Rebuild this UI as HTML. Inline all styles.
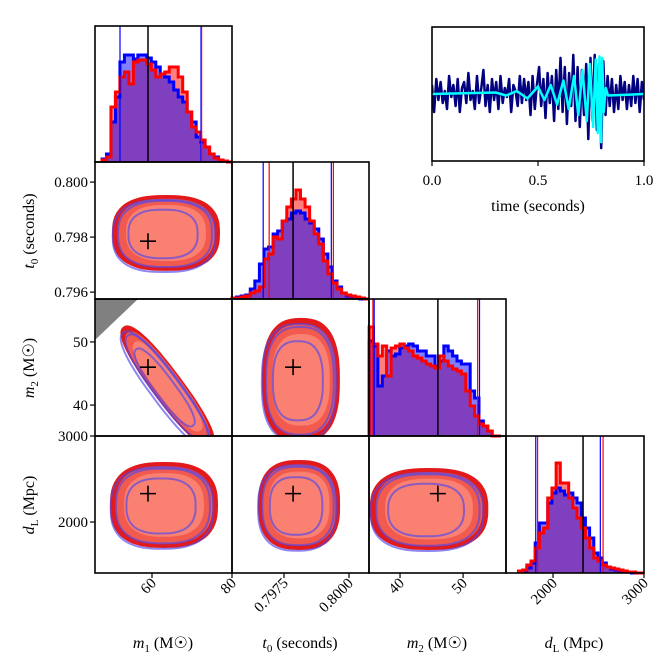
<!DOCTYPE html>
<html><head><meta charset="utf-8"><style>
html,body{margin:0;padding:0;background:#fff;}
svg{display:block;font-family:"Liberation Serif",serif;}
</style></head><body>
<svg id="c" width="672" height="668" viewBox="0 0 672 668" xmlns="http://www.w3.org/2000/svg"></svg>
<script>
// ---------- data ----------
const m1Bins = [47.5, 80];
const m1Blue = [3,8,40,65,100,107,107,103,107,107,104,100,95,88,85,80,72,65,60,50,40,25,20,15,8,5,2,1,0];
const m1Red  = [2,5,55,70,85,90,78,100,102,102,98,92,85,88,90,95,95,85,70,50,35,30,22,15,8,4,2,1,0];
const t0Bins = [0.7955, 0.80077];
const t0Blue = [1,2,3,4,10,18,35,50,52,65,68,78,80,86,88,86,80,76,70,60,45,32,18,12,6,3,2,1,0,0];
const t0Red  = [1,1,2,3,6,8,12,40,45,62,60,78,92,100,109,100,92,78,65,55,38,25,16,10,6,4,3,2,1,0];
const m2Bins = [35.1, 56.0];
const m2Blue = [95,90,50,60,85,80,82,88,90,92,90,85,85,80,80,70,75,90,85,80,75,72,72,45,38,15,10,5,0,0];
const m2Red  = [109,92,80,90,60,88,90,92,88,85,80,78,75,72,70,68,80,75,70,67,65,62,45,30,20,12,10,5,0,0];
const dLBins = [1620, 3000];
const dLBlue = [1,2,5,10,30,50,50,70,80,85,82,78,80,75,70,55,45,35,20,15,10,6,4,3,2,1,1,0,0,0];
const dLRed  = [2,3,8,12,25,40,45,75,85,110,90,90,75,65,55,45,35,25,15,12,8,6,5,4,3,2,1,1,0,0];
const truth = {m1:59, t0:0.79785, m2:46, dL:2330};
const qBlue = {m1:[52.0,72.25], t0:[0.79670,0.79932], m2:[35.9,52.6], dL:[1810,2520]};
const qRed  = {m1:[72.4], t0:[0.79693,0.79940], m2:[35.7,52.3], dL:[1830,2550]};
// 2D contour blobs: [xParam, yParam, xCenter, yCenter, xHalf, yHalf]
const blobs = [
 ['m1','t0',63.5,0.79815,13.5,0.00138],
 ['t0','m2',0.79815,44,0.0015,9.8],
 ['m1','dL',63.0,2198,13.5,500],
 ['t0','dL',0.79808,2198,0.00158,523],
 ['m2','dL',44.6,2151,9.4,477]
];
const band = {start:[52.8,52.4], end:[75.0,33.5], halfWidthM1:4.8};
const xTicks = {m1:[60,80], t0:[0.7975,0.8000], m2:[40,50], dL:[2000,3000]};
const xTickLabels = {m1:['60','80'], t0:['0.7975','0.8000'], m2:['40','50'], dL:['2000','3000']};
const yTicks = {t0:[0.800,0.798,0.796], m2:[50,40], dL:[3000,2000]};
const yTickLabels = {t0:['0.800','0.798','0.796'], m2:['50','40'], dL:['3000','2000']};
const sigData = [0.3,-0.6,0.5,-0.2,0.4,-0.3,0.1,-0.5,0.6,-0.1,0.3,-0.4,0.5,-0.6,0.2,0.4,-0.3,0.7,-0.2,0.1,-0.5,0.6,-0.3,0.2,0.8,-0.4,0.3,-0.6,0.5,-0.2,0.4,-0.5,0.6,-0.3,0.2,-0.1,0.5,-0.6,0.3,0.1,-0.4,0.6,-0.3,0.5,-0.2,0.4,-0.7,0.6,-0.5,0.3,0.9,-0.4,0.5,-0.8,0.7,-0.3,0.6,-0.9,0.8,-0.5,1.2,-0.6,0.9,-1.0,0.7,-0.4,1.3,-0.9,0.9,-1.1,0.8,-0.7,1.0,-1.5,1.2,-0.9,1.3,-1.2,1.0,-1.8,1.1,-0.7,0.6,-0.4,0.5,-0.6,0.3,-0.5,0.6,-0.2,0.4,-0.5,0.3,-0.4,0.6,-0.3,0.5,-0.6,0.4,-0.2];
const chirpT = [0,0.30,0.35,0.40,0.45,0.50,0.53,0.56,0.59,0.62,0.645,0.67,0.69,0.71,0.73,0.745,0.76,0.772,0.782,0.79,0.797,0.803,0.81,0.82,0.83,1.0];
const chirpV = [0,0.05,-0.05,0.1,-0.15,0.25,-0.2,0.3,-0.35,0.45,-0.5,0.6,-0.7,0.8,-0.9,1.0,-1.1,1.15,-1.3,1.25,-1.6,1.2,-0.6,0.2,-0.05,0];

// ---------- scales ----------
const colPx = {m1:[95,232], t0:[232,369], m2:[369,506], dL:[506,644]};
const colD  = {m1:[45.75,80], t0:[0.79550,0.80077], m2:[35.08,56.8], dL:[1483,3000]};
const rowPx = {t0:[162,299], m2:[299,436], dL:[436,573]};
const rowD  = {t0:[0.80073,0.79575], m2:[56.8,35.1], dL:[3000,1407]};
const lin=(d,r)=>v=>r[0]+(v-d[0])/(d[1]-d[0])*(r[1]-r[0]);
const X={},Y={};
for(const k in colPx) X[k]=lin(colD[k],colPx[k]);
for(const k in rowPx) Y[k]=lin(rowD[k],rowPx[k]);
const histRow = {m1:[26,162], t0:[162,299], m2:[299,436], dL:[436,573]};

const svg=document.getElementById('c');
const NS='http://www.w3.org/2000/svg';
function mk(tag,attrs,parent){const e=document.createElementNS(NS,tag);for(const a in attrs)e.setAttribute(a,attrs[a]);(parent||svg).appendChild(e);return e;}

const defs=mk('defs',{});
// ---------- histograms ----------
function hist(p,counts,bins,fill,name){
  const n=counts.length, bot=histRow[p][1];
  const w=(bins[1]-bins[0])/n;
  let d='M'+X[p](bins[0])+','+bot;
  counts.forEach((c,i)=>{const x0=X[p](bins[0]+i*w),x1=X[p](bins[0]+(i+1)*w);const y=bot-c;d+=' L'+x0+','+y+' L'+x1+','+y;});
  d+=' L'+X[p](bins[1])+','+bot;
  const f=mk('path',{d:d+' Z',fill:fill,stroke:'none'});
  
  
  return d;
}
const hs=[['m1',m1Red,m1Blue,m1Bins],['t0',t0Red,t0Blue,t0Bins],['m2',m2Red,m2Blue,m2Bins],['dL',dLRed,dLBlue,dLBins]];
hs.forEach(([p,r,b,bins])=>{
  const dr=hist(p,r,bins,'rgba(255,0,0,0.5)','hist-'+p+'-red');
  const db=hist(p,b,bins,'rgba(0,0,255,0.5)','hist-'+p+'-blue');
  const sb=mk('path',{d:db,fill:'none',stroke:'#0000ff','stroke-width':3});
  
  
  const sr=mk('path',{d:dr,fill:'none',stroke:'#ff0000','stroke-width':3});
  
  
  const [t,bt]=histRow[p];
  qBlue[p].forEach(v=>{const l=mk('line',{x1:X[p](v),x2:X[p](v),y1:t,y2:bt,stroke:'#0000ff','stroke-width':1.2});});
  qRed[p].forEach(v=>{const l=mk('line',{x1:X[p](v),x2:X[p](v),y1:t,y2:bt,stroke:'#ff0000','stroke-width':1.2});});
  const tl=mk('line',{x1:X[p](truth[p]),x2:X[p](truth[p]),y1:t,y2:bt,stroke:'#000','stroke-width':1.5});
  
  
});

// ---------- 2D panels ----------
function superPath(cx,cy,rx,ry,n,rot,dx,dy){
  let d='';const c=Math.cos(rot),s=Math.sin(rot);
  for(let i=0;i<=72;i++){const a=i/72*2*Math.PI;const ca=Math.cos(a),sa=Math.sin(a);
    const u=rx*Math.sign(ca)*Math.pow(Math.abs(ca),2/n), v=ry*Math.sign(sa)*Math.pow(Math.abs(sa),2/n);
    const x=cx+dx+u*c-v*s, y=cy+dy+u*s+v*c; d+=(i?'L':'M')+x.toFixed(1)+','+y.toFixed(1);}
  return d+'Z';
}
const levels=[[1.0,'#e31a1c'],[0.9,'#f25a4e'],[0.74,'#fa8072']];
function drawBlob(g,cx,cy,rx,ry,rot,n){
  levels.forEach(([s,col])=>{const p=mk('path',{d:superPath(cx,cy,rx*s,ry*s,n,rot,0,0),fill:col},g);});
  [[0.95,-2,3],[0.87,-1,1],[0.64,-3,1]].forEach(([s,dx,dy])=>{const p=mk('path',{d:superPath(cx,cy,rx*s,ry*s,n,rot,dx,dy),fill:'none',stroke:'rgba(80,70,235,0.65)','stroke-width':2},g);});
}
function panelGroup(xp,yp){
  const id='clip-'+xp+'-'+yp;
  const cp=mk('clipPath',{id:id},defs);
  mk('rect',{x:colPx[xp][0],y:rowPx[yp][0],width:colPx[xp][1]-colPx[xp][0],height:rowPx[yp][1]-rowPx[yp][0]},cp);
  const g=mk('g',{'clip-path':'url(#'+id+')'});
  
  
  return g;
}
function cross(g,xp,yp){
  const cxp=X[xp](truth[xp]),cyp=Y[yp](truth[yp]);
  const cr=mk('path',{d:`M${cxp-8},${cyp}H${cxp+8}M${cxp},${cyp-8}V${cyp+8}`,stroke:'#000','stroke-width':1.6,fill:'none'},g);
  
  
}
blobs.forEach(([xp,yp,cx,cy,hx,hy])=>{
  const g=panelGroup(xp,yp);
  const pcx=X[xp](cx),pcy=Y[yp](cy);
  const rx=Math.abs(X[xp](cx+hx)-pcx), ry=Math.abs(Y[yp](cy+hy)-pcy);
  drawBlob(g,pcx,pcy,rx,ry,0,2.6);
  cross(g,xp,yp);
});
{
  const g=panelGroup('m1','m2');
  const x0=X.m1(band.start[0]),y0=Y.m2(band.start[1]),x1=X.m1(band.end[0]),y1=Y.m2(band.end[1]);
  const len=Math.hypot(x1-x0,y1-y0)/2, rot=Math.atan2(y1-y0,x1-x0);
  const w=(X.m1(band.start[0]+band.halfWidthM1)-x0)*Math.sin(rot);
  drawBlob(g,(x0+x1)/2,(y0+y1)/2,len,w,rot,2.4);
  const tri=mk('path',{d:`M${X.m1(45.75)},${Y.m2(56.8)}L${X.m1(56.5)},${Y.m2(56.8)}L${X.m1(45.75)},${Y.m2(50.3)}Z`,fill:'#808080'},g);
  
  
  cross(g,'m1','m2');
}

// ---------- frames ----------
const frames=[['m1','m1'],['t0','t0'],['m2','m2'],['dL','dL'],['m1','t0'],['m1','m2'],['t0','m2'],['m1','dL'],['t0','dL'],['m2','dL']];
frames.forEach(([xp,yp])=>{
  const yr= xp===yp?histRow[yp]:rowPx[yp];
  const r=mk('rect',{x:colPx[xp][0],y:yr[0],width:colPx[xp][1]-colPx[xp][0],height:yr[1]-yr[0],fill:'none',stroke:'#000','stroke-width':1.6});
  
  
});
for(const p in xTicks){xTicks[p].forEach((v,i)=>{const x=X[p](v);
  const t=mk('line',{x1:x,x2:x,y1:573,y2:578,stroke:'#000','stroke-width':1.2});
  const tx=mk('text',{x:x+5,y:584,'font-size':15,'text-anchor':'end',transform:`rotate(-45 ${x+5} 584)`});tx.textContent=xTickLabels[p][i];});}
for(const p in yTicks){yTicks[p].forEach((v,i)=>{const y=Y[p](v);
  const t=mk('line',{x1:90,x2:95,y1:y,y2:y,stroke:'#000','stroke-width':1.2});
  const tx=mk('text',{x:88,y:y+5,'font-size':15,'text-anchor':'end'});tx.textContent=yTickLabels[p][i];});}
function label(html,x,y,rot,name){const t=mk('text',{x:x,y:y,'font-size':16,'text-anchor':'middle'});if(rot)t.setAttribute('transform',`rotate(-90 ${x} ${y})`);t.innerHTML=html;}
label('<tspan font-style="italic">t</tspan><tspan font-size="11" dy="4">0</tspan><tspan dy="-4"> (seconds)</tspan>',34,231,true,'y-axis-title-t0');
label('<tspan font-style="italic">m</tspan><tspan font-size="11" dy="4">2</tspan><tspan dy="-4"> (M☉)</tspan>',34,368,true,'y-axis-title-m2');
label('<tspan font-style="italic">d</tspan><tspan font-size="11" dy="4">L</tspan><tspan dy="-4"> (Mpc)</tspan>',34,505,true,'y-axis-title-dL');
label('<tspan font-style="italic">m</tspan><tspan font-size="11" dy="4">1</tspan><tspan dy="-4"> (M☉)</tspan>',163,648,false,'x-axis-title-m1');
label('<tspan font-style="italic">t</tspan><tspan font-size="11" dy="4">0</tspan><tspan dy="-4"> (seconds)</tspan>',300,648,false,'x-axis-title-t0');
label('<tspan font-style="italic">m</tspan><tspan font-size="11" dy="4">2</tspan><tspan dy="-4"> (M☉)</tspan>',437,648,false,'x-axis-title-m2');
label('<tspan font-style="italic">d</tspan><tspan font-size="11" dy="4">L</tspan><tspan dy="-4"> (Mpc)</tspan>',574,648,false,'x-axis-title-dL');

// ---------- inset ----------
const IX=lin([0,1],[432,644]), IY=lin([-2.23,2.23],[161,27]);
{
  const cp=mk('clipPath',{id:'clip-inset'},defs);mk('rect',{x:432,y:27,width:212,height:134},cp);
  const g=mk('g',{'clip-path':'url(#clip-inset)'});
  
  
  let d='';sigData.forEach((v,i)=>{d+=(i?'L':'M')+IX(i/(sigData.length-1)).toFixed(1)+','+IY(v).toFixed(1);});
  const dl=mk('path',{d:d,fill:'none',stroke:'#000080','stroke-width':2.5,'stroke-linejoin':'round'},g);
  
  
  let c='';chirpT.forEach((t,i)=>{c+=(i?'L':'M')+IX(t).toFixed(1)+','+IY(chirpV[i]).toFixed(1);});
  const cl=mk('path',{d:c,fill:'none',stroke:'#00ffff','stroke-width':2.5,'stroke-linejoin':'round'},g);
  
  
  const r=mk('rect',{x:432,y:27,width:212,height:134,fill:'none',stroke:'#000','stroke-width':1.6});
  
  
  const insetTicks=[0,0.5,1], insetLabels=['0.0','0.5','1.0'];
  insetTicks.forEach((v,i)=>{const x=IX(v);
    const t=mk('line',{x1:x,x2:x,y1:161,y2:166,stroke:'#000','stroke-width':1.2});
    const tx=mk('text',{x:x,y:185,'font-size':15,'text-anchor':'middle'});tx.textContent=insetLabels[i];});
  const xl=mk('text',{x:538,y:211,'font-size':16,'text-anchor':'middle'});xl.textContent='time (seconds)';
  
  
}
</script>
</body></html>
